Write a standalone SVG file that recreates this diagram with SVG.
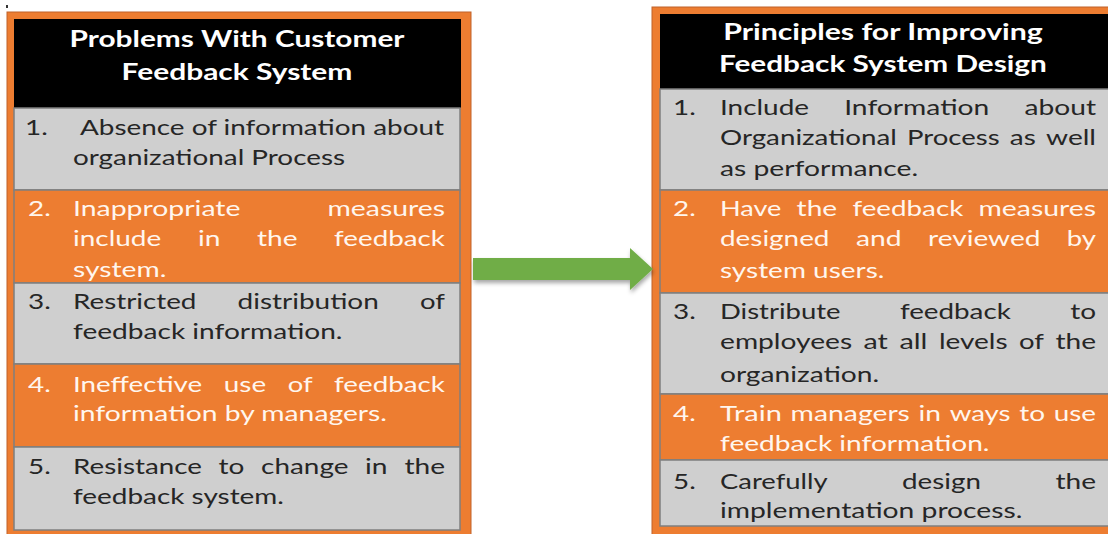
<svg xmlns="http://www.w3.org/2000/svg" width="1108" height="534" viewBox="0 0 1108 534">
<style>
.outer{fill:#ED7D31;stroke:#C0622A;stroke-width:1}
.hdr{fill:#000}
.g{fill:#CFCFCF;stroke:#7F7F7F;stroke-width:1.5}
.o{fill:#ED7D31;stroke:#7F7F7F;stroke-width:1.5}
text{font-family:Lato,"Liberation Sans",sans-serif;font-size:22px}
.h{fill:#fff;font-weight:bold;font-size:23px}
.d{fill:#262626}
.w{fill:#FFF6EE}
</style>
<defs>
<filter id="sh" x="-10%" y="-30%" width="120%" height="180%">
<feDropShadow dx="1" dy="3" stdDeviation="2" flood-color="#000" flood-opacity="0.35"/>
</filter>
</defs>
<rect x="6" y="5" width="2" height="3" fill="#333"/>
<g id="left-panel">
<rect class="outer" x="7" y="12" width="464" height="530"/>
<rect class="hdr" x="14" y="19" width="447" height="89"/>
<text class="h" x="69.5" y="47" textLength="335" lengthAdjust="spacingAndGlyphs">Problems With Customer</text>
<text class="h" x="121.6" y="80" textLength="230.8" lengthAdjust="spacingAndGlyphs">Feedback System</text>
<rect class="g" x="14" y="108" width="446" height="82"/>
<rect class="o" x="14" y="190" width="446" height="93"/>
<rect class="g" x="14" y="283" width="446" height="81"/>
<rect class="o" x="14" y="364" width="446" height="83"/>
<rect class="g" x="14" y="447" width="446" height="83"/>
<g class="d">
<text x="25" y="135" textLength="22.7" lengthAdjust="spacingAndGlyphs">1.</text>
<text x="80" y="135" textLength="364" lengthAdjust="spacingAndGlyphs">Absence of information about</text>
<text x="73" y="165" textLength="272" lengthAdjust="spacingAndGlyphs">organizational Process</text>
</g>
<g class="w">
<text x="28" y="216" textLength="22.7" lengthAdjust="spacingAndGlyphs">2.</text>
<text x="73" y="216" textLength="167.4" lengthAdjust="spacingAndGlyphs">Inappropriate</text>
<text x="327.5" y="216" textLength="117.5" lengthAdjust="spacingAndGlyphs">measures</text>
<text x="73" y="246" textLength="88.3" lengthAdjust="spacingAndGlyphs">include</text>
<text x="197.9" y="246" textLength="22.5" lengthAdjust="spacingAndGlyphs">in</text>
<text x="257" y="246" textLength="40.6" lengthAdjust="spacingAndGlyphs">the</text>
<text x="334.1" y="246" textLength="110.9" lengthAdjust="spacingAndGlyphs">feedback</text>
<text x="73" y="277" textLength="93.3" lengthAdjust="spacingAndGlyphs">system.</text>
</g>
<g class="d">
<text x="28" y="309" textLength="22.7" lengthAdjust="spacingAndGlyphs">3.</text>
<text x="73" y="309" textLength="123.4" lengthAdjust="spacingAndGlyphs">Restricted</text>
<text x="237.6" y="309" textLength="141.2" lengthAdjust="spacingAndGlyphs">distribution</text>
<text x="420.1" y="309" textLength="24.9" lengthAdjust="spacingAndGlyphs">of</text>
<text x="73" y="339" textLength="269.5" lengthAdjust="spacingAndGlyphs">feedback information.</text>
</g>
<g class="w">
<text x="28" y="392" textLength="22.7" lengthAdjust="spacingAndGlyphs">4.</text>
<text x="73" y="392" textLength="129.2" lengthAdjust="spacingAndGlyphs">Ineffective</text>
<text x="223.8" y="392" textLength="42.3" lengthAdjust="spacingAndGlyphs">use</text>
<text x="287.7" y="392" textLength="24.9" lengthAdjust="spacingAndGlyphs">of</text>
<text x="334.1" y="392" textLength="110.9" lengthAdjust="spacingAndGlyphs">feedback</text>
<text x="73" y="421" textLength="314" lengthAdjust="spacingAndGlyphs">information by managers.</text>
</g>
<g class="d">
<text x="28" y="474" textLength="22.7" lengthAdjust="spacingAndGlyphs">5.</text>
<text x="73" y="474" textLength="128.9" lengthAdjust="spacingAndGlyphs">Resistance</text>
<text x="218.6" y="474" textLength="25.8" lengthAdjust="spacingAndGlyphs">to</text>
<text x="261.1" y="474" textLength="87.3" lengthAdjust="spacingAndGlyphs">change</text>
<text x="365.1" y="474" textLength="22.5" lengthAdjust="spacingAndGlyphs">in</text>
<text x="404.4" y="474" textLength="40.6" lengthAdjust="spacingAndGlyphs">the</text>
<text x="73" y="504" textLength="210.9" lengthAdjust="spacingAndGlyphs">feedback system.</text>
</g>
</g>
<g id="right-panel">
<rect class="outer" x="652" y="7" width="470" height="535"/>
<rect class="hdr" x="660" y="14" width="460" height="75"/>
<text class="h" x="723.3" y="40" textLength="319.5" lengthAdjust="spacingAndGlyphs">Principles for Improving</text>
<text class="h" x="719" y="72" textLength="327.8" lengthAdjust="spacingAndGlyphs">Feedback System Design</text>
<rect class="g" x="660" y="89" width="460" height="101"/>
<rect class="o" x="660" y="190" width="460" height="103"/>
<rect class="g" x="660" y="293" width="460" height="101"/>
<rect class="o" x="660" y="394" width="460" height="66"/>
<rect class="g" x="660" y="460" width="460" height="66"/>
<g class="d">
<text x="673" y="115" textLength="22.7" lengthAdjust="spacingAndGlyphs">1.</text>
<text x="720" y="115" textLength="89" lengthAdjust="spacingAndGlyphs">Include</text>
<text x="844.2" y="115" textLength="145.1" lengthAdjust="spacingAndGlyphs">Information</text>
<text x="1024.5" y="115" textLength="71.5" lengthAdjust="spacingAndGlyphs">about</text>
<text x="720" y="145" textLength="176.8" lengthAdjust="spacingAndGlyphs">Organizational</text>
<text x="907" y="145" textLength="92.6" lengthAdjust="spacingAndGlyphs">Process</text>
<text x="1009.8" y="145" textLength="26" lengthAdjust="spacingAndGlyphs">as</text>
<text x="1046" y="145" textLength="50" lengthAdjust="spacingAndGlyphs">well</text>
<text x="720" y="176" textLength="198.1" lengthAdjust="spacingAndGlyphs">as performance.</text>
</g>
<g class="w">
<text x="673" y="216" textLength="22.7" lengthAdjust="spacingAndGlyphs">2.</text>
<text x="720" y="216" textLength="61.4" lengthAdjust="spacingAndGlyphs">Have</text>
<text x="796.6" y="216" textLength="40.6" lengthAdjust="spacingAndGlyphs">the</text>
<text x="852.4" y="216" textLength="110.9" lengthAdjust="spacingAndGlyphs">feedback</text>
<text x="978.5" y="216" textLength="117.5" lengthAdjust="spacingAndGlyphs">measures</text>
<text x="720" y="246" textLength="109.5" lengthAdjust="spacingAndGlyphs">designed</text>
<text x="855.9" y="246" textLength="45.7" lengthAdjust="spacingAndGlyphs">and</text>
<text x="928" y="246" textLength="112.5" lengthAdjust="spacingAndGlyphs">reviewed</text>
<text x="1066.8" y="246" textLength="29.2" lengthAdjust="spacingAndGlyphs">by</text>
<text x="720" y="278" textLength="164.4" lengthAdjust="spacingAndGlyphs">system users.</text>
</g>
<g class="d">
<text x="673" y="319" textLength="22.7" lengthAdjust="spacingAndGlyphs">3.</text>
<text x="720" y="319" textLength="120.5" lengthAdjust="spacingAndGlyphs">Distribute</text>
<text x="899.9" y="319" textLength="110.9" lengthAdjust="spacingAndGlyphs">feedback</text>
<text x="1070.2" y="319" textLength="25.8" lengthAdjust="spacingAndGlyphs">to</text>
<text x="720" y="349" textLength="132.1" lengthAdjust="spacingAndGlyphs">employees</text>
<text x="863.6" y="349" textLength="24.3" lengthAdjust="spacingAndGlyphs">at</text>
<text x="899.4" y="349" textLength="28" lengthAdjust="spacingAndGlyphs">all</text>
<text x="938.9" y="349" textLength="68.7" lengthAdjust="spacingAndGlyphs">levels</text>
<text x="1019.1" y="349" textLength="24.9" lengthAdjust="spacingAndGlyphs">of</text>
<text x="1055.4" y="349" textLength="40.6" lengthAdjust="spacingAndGlyphs">the</text>
<text x="720" y="382" textLength="159.1" lengthAdjust="spacingAndGlyphs">organization.</text>
</g>
<g class="w">
<text x="673" y="421" textLength="22.7" lengthAdjust="spacingAndGlyphs">4.</text>
<text x="720" y="421" textLength="61.9" lengthAdjust="spacingAndGlyphs">Train</text>
<text x="790.6" y="421" textLength="119.3" lengthAdjust="spacingAndGlyphs">managers</text>
<text x="918.5" y="421" textLength="22.5" lengthAdjust="spacingAndGlyphs">in</text>
<text x="949.7" y="421" textLength="60.9" lengthAdjust="spacingAndGlyphs">ways</text>
<text x="1019.3" y="421" textLength="25.8" lengthAdjust="spacingAndGlyphs">to</text>
<text x="1053.7" y="421" textLength="42.3" lengthAdjust="spacingAndGlyphs">use</text>
<text x="720" y="451" textLength="269.5" lengthAdjust="spacingAndGlyphs">feedback information.</text>
</g>
<g class="d">
<text x="673" y="489" textLength="22.7" lengthAdjust="spacingAndGlyphs">5.</text>
<text x="720" y="489" textLength="107.6" lengthAdjust="spacingAndGlyphs">Carefully</text>
<text x="902" y="489" textLength="78.9" lengthAdjust="spacingAndGlyphs">design</text>
<text x="1055.4" y="489" textLength="40.6" lengthAdjust="spacingAndGlyphs">the</text>
<text x="720" y="518" textLength="302.4" lengthAdjust="spacingAndGlyphs">implementation process.</text>
</g>
</g>
<g id="connectors">
<polygon id="arrow" points="473,258 630,258 630,248 653,269 630,290 630,280 473,280" fill="#70AD47" filter="url(#sh)"/>
</g>
</svg>
